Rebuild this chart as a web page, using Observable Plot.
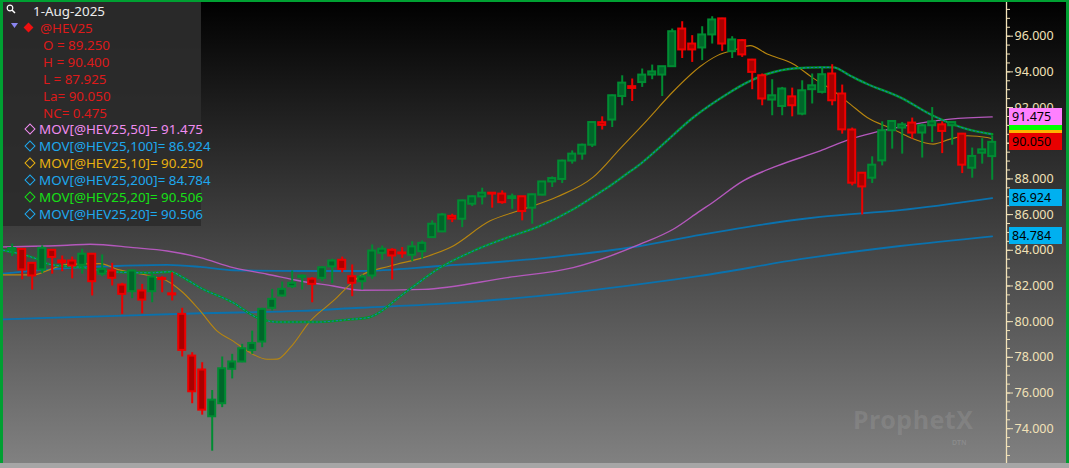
<!DOCTYPE html>
<html><head><meta charset="utf-8">
<script src="https://cdn.jsdelivr.net/npm/d3@7"></script>
<script src="https://cdn.jsdelivr.net/npm/@observablehq/plot@0.6"></script>
<style>
html,body{margin:0;padding:0;background:#000;}
#wrap{position:relative;width:1069px;height:468px;overflow:hidden;background:linear-gradient(to bottom,#000 0%,#828282 100%);font-family:"Noto Sans","Open Sans",sans-serif;}
#wrap svg{position:absolute;left:0;top:0;}
.abs{position:absolute;white-space:nowrap;}
#legend{position:absolute;left:3px;top:2px;width:198px;height:224px;background:rgba(44,44,44,0.93);}
.lt{position:absolute;font-size:13.4px;line-height:16px;white-space:nowrap;}
.dia{position:absolute;width:6px;height:6px;border:1.6px solid;transform:rotate(45deg);}
.badge{position:absolute;left:1009px;width:53px;height:17px;font-size:12.5px;line-height:17px;color:#000;padding-left:3px;box-sizing:border-box;}
</style></head><body><div id="wrap"></div>
<script>
// OHLC, bar index 0..98 (last bar = 1-Aug-2025)
const open  = [84.0,84.05,83.27,82.9,84.0,83.4,83.4,83.16,83.78,82.66,82.84,82.05,81.68,81.72,81.68,82.42,81.56,80.41,78.07,77.29,74.67,75.4,77.33,77.74,78.39,78.86,80.75,81.44,81.96,82.48,82.38,82.43,83.07,83.44,82.52,82.24,82.56,83.83,84.0,83.85,83.72,83.92,84.71,85.03,85.9,85.74,86.58,86.99,87.2,87.15,86.9,87.0,86.36,87.09,87.83,87.97,89.0,89.39,89.89,91.15,91.3,92.62,93.17,93.4,93.82,93.82,94.29,96.4,95.56,95.34,96.07,96.97,95.13,95.75,94.66,93.78,92.42,92.06,92.6,91.63,93.0,92.85,93.88,92.76,90.74,88.32,88.04,89.01,90.7,90.85,91.13,90.57,90.98,91.03,90.98,90.51,88.6,89.44,89.25];
const high  = [84.35,84.1,83.3,84.25,84.02,83.68,83.62,84.06,83.8,83.74,83.27,82.15,82.9,82.09,82.74,82.52,82.74,80.75,78.26,77.7,76.14,78.02,78.17,78.73,79.47,80.75,81.81,82.22,82.84,82.62,82.47,83.08,83.5,83.62,83.18,82.62,84.3,84.24,84.09,84.15,84.48,84.52,85.65,86.06,86.02,86.81,87.05,87.48,87.22,87.33,87.15,87.02,87.15,87.85,88.11,89.05,89.57,89.95,91.2,91.48,92.7,93.78,93.6,94.16,94.38,94.3,96.4,96.81,96.03,96.53,97.09,97.0,95.97,95.8,94.7,93.88,93.56,93.13,93.09,93.5,93.88,94.25,94.4,93.26,90.85,88.35,89.24,91.2,91.26,91.16,91.41,91.07,92.0,91.2,91.16,90.55,89.73,90.26,90.4];
const low   = [83.65,82.35,81.77,82.69,82.66,82.8,82.4,82.66,81.44,82.52,82.0,80.41,81.29,80.44,81.06,81.62,81.16,78.02,75.4,74.76,72.74,75.18,76.79,77.7,78.17,78.54,80.6,81.38,81.85,81.78,81.06,82.24,82.13,82.74,81.4,81.78,82.38,83.44,82.34,83.55,83.36,83.5,84.68,84.99,85.55,85.27,86.45,86.54,86.36,86.58,86.3,85.65,85.46,87.05,87.52,87.74,88.83,89.05,89.76,90.74,90.88,92.1,92.34,93.13,93.56,92.62,94.25,94.75,94.53,94.63,95.56,95.15,94.75,94.81,93.0,92.1,91.54,91.54,91.48,91.54,92.2,92.76,92.1,90.51,87.61,85.98,87.74,88.73,89.67,89.39,90.23,89.17,90.04,89.42,89.89,88.3,88.04,88.83,87.925];
const close = [84.1,82.9,82.56,84.11,83.6,83.3,83.12,83.78,82.24,82.93,82.43,81.53,82.84,81.21,82.5,82.36,81.5,78.39,76.07,75.04,75.6,77.36,77.74,78.48,78.78,80.69,81.25,81.81,82.15,82.55,82.09,83.02,83.4,82.93,82.15,82.5,83.96,84.06,83.68,83.8,84.19,84.39,85.46,85.98,85.75,86.77,87.0,87.2,87.15,86.67,87.0,86.17,87.11,87.83,88.02,89.0,89.39,89.89,91.16,91.0,92.66,93.37,93.07,93.82,94.0,94.29,96.25,95.23,95.23,96.07,96.91,95.56,95.79,94.95,93.97,92.48,92.66,93.04,92.1,92.94,93.22,93.84,92.38,90.75,87.76,87.55,88.77,90.7,91.22,91.03,90.57,90.98,91.2,90.66,91.16,88.77,89.26,89.63,90.05];

// Moving averages: [bar index, value]
const ma10 = [[-0.9,82.62],[2.1,82.62],[3.8,82.93],[5.5,83.21],[8.8,83.25],[10.5,82.93],[13.8,82.56],[15.5,82.28],[17.1,81.62],[18.8,80.6],[20.5,79.47],[22.1,78.91],[23.8,78.26],[25.5,77.89],[26.5,77.9],[27.8,78.54],[29.8,80.03],[32.1,81.16],[33.8,82.09],[34.8,82.56],[37.8,83.12],[41.1,83.59],[43.8,84.15],[47.8,85.65],[51.1,86.3],[54.5,87.0],[58.1,88.1],[60.8,89.7],[63.5,91.3],[66.1,92.9],[68.8,94.3],[70.5,94.91],[72.5,95.28],[73.8,95.47],[75.5,95.0],[78.1,94.44],[80.1,93.65],[82.1,92.94],[83.8,92.19],[85.5,91.44],[88.1,90.79],[89.8,90.32],[92.1,89.95],[93.8,90.23],[95.5,90.42],[97.5,90.32],[98,90.25]];
const ma20 = [[-0.9,84.0],[2.1,83.59],[3.8,83.21],[7.1,83.03],[9.8,82.8],[13.8,82.74],[15.8,82.8],[17.1,82.47],[18.8,81.9],[22.1,81.06],[24.5,80.22],[26.5,79.98],[30.5,79.98],[33.8,80.13],[35.5,80.22],[39.5,81.72],[42.8,83.03],[46.1,83.96],[49.5,84.71],[52.8,85.37],[56.1,86.3],[58.1,87.0],[59.5,87.5],[61.5,88.3],[62.8,88.83],[64.8,89.8],[68.1,91.44],[71.5,92.76],[73.5,93.41],[75.5,93.88],[78.1,94.19],[80.8,94.25],[82.1,94.25],[83.8,93.78],[85.5,93.32],[88.8,92.57],[92.1,91.54],[95.5,90.79],[98,90.506]];
const ma50 = [[-0.9,84.19],[5.5,84.28],[7.8,84.34],[12.1,84.15],[15.5,83.96],[18.8,83.59],[22.1,83.03],[25.5,82.66],[28.8,82.28],[32.1,82.0],[34.8,81.76],[41.1,81.81],[49.5,82.47],[56.1,83.03],[62.8,84.34],[66.1,85.18],[68.8,86.21],[69.8,86.58],[73.1,87.89],[76.5,88.73],[80.8,89.57],[83.8,90.23],[88.8,90.92],[93.8,91.35],[98,91.475]];
const ma100 = [[-0.9,82.69],[5.5,83.0],[10.5,83.12],[15.5,83.18],[18.8,83.07],[22.1,82.88],[28.8,82.84],[34.8,82.84],[42.8,83.12],[52.8,83.55],[62.8,84.24],[68.8,84.86],[71.5,85.12],[78.8,85.74],[80.8,85.87],[88.8,86.25],[98,86.924]];
const ma200 = [[-0.9,80.13],[8.8,80.3],[18.8,80.47],[28.8,80.6],[34.8,80.78],[42.8,81.0],[52.8,81.44],[62.8,82.1],[68.8,82.56],[78.8,83.5],[88.8,84.24],[98,84.784]];

const yMajor = d3.range(74, 97, 2);
const yMinor = d3.range(72.5, 98, 0.5);
const yHiddenLabels = [90];  // label fully covered by the last-price badge in the reference
const xDomain = [-1.17, 99.43];

const legendDate = "1-Aug-2025";
const symbol = "@HEV25";
const ohlcLabels = ["O = 89.250","H = 90.400","L = 87.925","La= 90.050","NC= 0.475"];
const movLabels = [
  ["MOV[@HEV25,50]= 91.475","#f08cf0"],
  ["MOV[@HEV25,100]= 86.924","#1ea8ee"],
  ["MOV[@HEV25,10]= 90.250","#e8b010"],
  ["MOV[@HEV25,200]= 84.784","#1ea8ee"],
  ["MOV[@HEV25,20]= 90.506","#16e016"],
  ["MOV[@HEV25,20]= 90.506","#1ea8ee"]
];
const badges = [
  [90.506,"#00ff00",false],
  [90.25,"#ffb400",false],
  [90.05,"#e80000",true],
  [91.475,"#ff80ff",true],
  [86.924,"#00b0f0",true],
  [84.784,"#00b0f0",true]
];

const G="#008c32", GD="#00662a", R="#ee0000", RD="#a80000";
const bars = open.map((o,i)=>({i,o,h:high[i],l:low[i],c:close[i],up:close[i]>=o}));
const px = d=>d[0], py = d=>d[1];
const fmt = d3.format(".3f");

const chart = Plot.plot({
  width:1069, height:468, marginLeft:0, marginRight:63, marginTop:0, marginBottom:5,
  x:{domain:xDomain, axis:null},
  y:{domain:[72.05,98], axis:null},
  color:{type:"identity"},
  style:{background:"transparent", overflow:"visible", fontFamily:"Noto Sans", fontSize:"12.5px"},
  marks:[
    Plot.line(ma200,{x:px,y:py,stroke:"#0a72ae",strokeWidth:1.8,curve:"monotone-x"}),
    Plot.line(ma100,{x:px,y:py,stroke:"#0a72ae",strokeWidth:1.8,curve:"monotone-x"}),
    Plot.line(ma50,{x:px,y:py,stroke:"#b458bc",strokeWidth:1.4,curve:"monotone-x"}),
    Plot.line(ma10,{x:px,y:py,stroke:"#b8860f",strokeWidth:1.1,curve:"monotone-x"}),
    Plot.line(ma20,{x:px,y:py,stroke:"#009a22",strokeWidth:2.4,curve:"monotone-x"}),
    Plot.line(ma20,{x:px,y:py,stroke:"#1a78b8",strokeWidth:1.1,strokeDasharray:"1.5,2.5",curve:"monotone-x"}),
    Plot.ruleX(bars,{x:"i",y1:"l",y2:"h",stroke:d=>d.up?G:R,strokeWidth:2}),
    Plot.rect(bars,{x1:d=>d.i-0.35,x2:d=>d.i+0.35,y1:"o",y2:"c",fill:d=>d.up?GD:RD,stroke:d=>d.up?G:R,strokeWidth:2}),
    Plot.ruleX([xDomain[1]],{stroke:"#f2e2b8",strokeWidth:1.3}),
    Plot.axisY(yMinor,{anchor:"right",tickSize:3,tickFormat:()=>"",color:"#f2e2b8",label:null}),
    Plot.axisY(yMajor,{anchor:"right",tickSize:6,tickPadding:2,tickFormat:d=>yHiddenLabels.includes(d)?"":fmt(d),color:"#f2e2b8",label:null,fontSize:12.5})
  ]
});
const wrap = document.getElementById("wrap");
wrap.appendChild(chart);

// scale for overlays
const ys = chart.scale("y");
const yf = ys.apply ? (v=>ys.apply(v)) : d3.scaleLinear(ys.domain, ys.range);

// badges
for (const [v,bg,txt] of badges){
  const b=document.createElement("div");
  b.className="badge";
  b.style.top=(yf(v)-8.5)+"px";
  b.style.background=bg;
  if(txt) b.textContent=fmt(v);
  wrap.appendChild(b);
}

// legend
const lg=document.createElement("div"); lg.id="legend"; wrap.appendChild(lg);
function t(x,y,s,c){const e=document.createElement("div");e.className="lt";e.style.left=x+"px";e.style.top=y+"px";e.style.color=c;e.textContent=s;lg.appendChild(e);return e;}
lg.insertAdjacentHTML("beforeend",'<svg style="position:absolute;left:3px;top:2px" width="10" height="10"><circle cx="4" cy="4" r="2.8" fill="none" stroke="#fff" stroke-width="1.2"/><line x1="6" y1="6" x2="9" y2="9" stroke="#fff" stroke-width="1.5"/></svg>');
t(30,1,legendDate,"#ececec");
lg.insertAdjacentHTML("beforeend",'<svg style="position:absolute;left:8px;top:21px" width="8" height="6"><path d="M0,0H7L3.5,5Z" fill="#8a86f0"/></svg>');
lg.insertAdjacentHTML("beforeend",'<div style="position:absolute;left:22px;top:22px;width:7px;height:7px;background:#ee1010;transform:rotate(45deg)"></div>');
t(37,18,symbol,"#dd1a1a");
ohlcLabels.forEach((s,i)=>t(40,35+i*17,s,"#dd1a1a"));
movLabels.forEach(([s,c],i)=>{
  const y=119+i*17;
  const d=document.createElement("div");d.className="dia";d.style.left="23px";d.style.top=(y+4)+"px";d.style.borderColor=c;lg.appendChild(d);
  t(36,y,s,c);
});

// watermark
wrap.insertAdjacentHTML("beforeend",'<div class="abs" style="left:853px;top:407px;font-size:25px;line-height:25px;font-weight:700;color:rgba(255,255,255,0.1);letter-spacing:0.5px">ProphetX</div><div class="abs" style="left:952px;top:439px;font-size:7px;line-height:7px;font-weight:700;color:rgba(255,255,255,0.12)">DTN</div>');

// frame borders
wrap.insertAdjacentHTML("beforeend",'<div class="abs" style="left:0;top:0;width:1069px;height:2px;background:#00a032"></div><div class="abs" style="left:0;top:0;width:3px;height:468px;background:#00a032"></div><div class="abs" style="left:1066px;top:0;width:3px;height:468px;background:#00a032"></div><div class="abs" style="left:0;top:463px;width:1069px;height:5px;background:#a6a6a6"></div>');
</script></body></html>
